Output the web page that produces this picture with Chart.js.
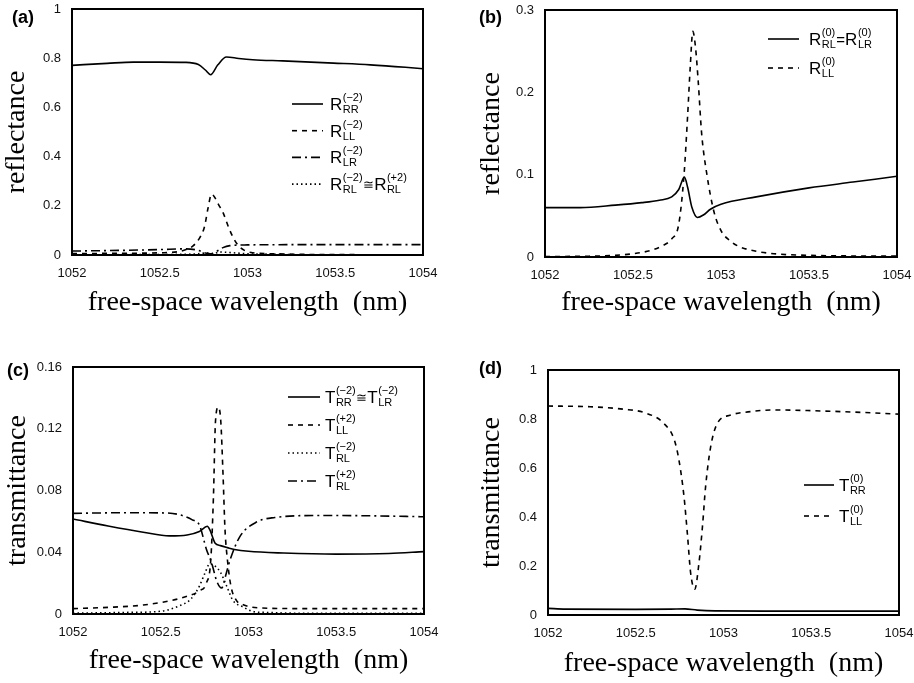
<!DOCTYPE html>
<html>
<head>
<meta charset="utf-8">
<script src="https://cdn.jsdelivr.net/npm/chart.js@4/dist/chart.umd.min.js"></script>
<style>
  body { margin: 0; background: #fff; }
  #fig { position: relative; width: 914px; height: 683px; }
  canvas { position: absolute; }
</style>
</head>
<body>
<div id="fig">
  <canvas id="panelA" width="457" height="320" style="left:0;top:0"></canvas>
  <canvas id="panelB" width="457" height="320" style="left:457px;top:0"></canvas>
  <canvas id="panelC" width="457" height="363" style="left:0;top:320px"></canvas>
  <canvas id="panelD" width="457" height="363" style="left:457px;top:320px"></canvas>
</div>
<script>
// ─────────────────────────────────────────────────────────────
// Spectra (free-space wavelength in nm)
// ─────────────────────────────────────────────────────────────

const xTicks = [1052, 1052.5, 1053, 1053.5, 1054];
const yTicksA = [0, 0.2, 0.4, 0.6, 0.8, 1];
const yTicksB = [0, 0.1, 0.2, 0.3];
const yTicksC = [0, 0.04, 0.08, 0.12, 0.16];
const yTicksD = [0, 0.2, 0.4, 0.6, 0.8, 1];

// (a) reflectance, order -2
const lamA_RR = [1052, 1052.2, 1052.35, 1052.5, 1052.65, 1052.72, 1052.76, 1052.79, 1052.83, 1052.88, 1052.95, 1053.03, 1053.2, 1053.49, 1053.7, 1053.9, 1054];
const valA_RR = [0.771, 0.779, 0.784, 0.784, 0.783, 0.774, 0.752, 0.733, 0.772, 0.805, 0.799, 0.794, 0.789, 0.780, 0.773, 0.763, 0.757];
const lamA_LL = [1052, 1052.3, 1052.5, 1052.6, 1052.65, 1052.69, 1052.73, 1052.755, 1052.775, 1052.795, 1052.81, 1052.835, 1052.862, 1052.891, 1052.919, 1052.946, 1052.98, 1053.03, 1053.15, 1053.4, 1054];
const valA_LL = [0.006, 0.007, 0.009, 0.013, 0.022, 0.037, 0.073, 0.115, 0.19, 0.247, 0.238, 0.205, 0.17, 0.115, 0.07, 0.04, 0.02, 0.009, 0.005, 0.002, 0.001];
const lamA_LR = [1052, 1052.3, 1052.5, 1052.65, 1052.72, 1052.76, 1052.79, 1052.82, 1052.86, 1052.9, 1053, 1053.3, 1053.6, 1054];
const valA_LR = [0.016, 0.019, 0.022, 0.025, 0.019, 0.008, 0.005, 0.013, 0.03, 0.038, 0.041, 0.042, 0.042, 0.042];
const lamA_RL = [1052, 1052.5, 1052.7, 1052.77, 1052.8, 1052.85, 1052.9, 1053, 1053.15, 1053.3, 1054];
const valA_RL = [0.001, 0.002, 0.004, 0.008, 0.006, 0.012, 0.01, 0.005, 0.003, 0.001, 0.0];

// (b) reflectance, order 0
const lamB_RL = [1052, 1052.2, 1052.4, 1052.55, 1052.65, 1052.72, 1052.76, 1052.792, 1052.81, 1052.835, 1052.866, 1052.9, 1052.94, 1053, 1053.2, 1053.5, 1053.75, 1054];
const valB_RL = [0.060, 0.060, 0.063, 0.066, 0.069, 0.073, 0.082, 0.097, 0.085, 0.060, 0.048, 0.051, 0.058, 0.064, 0.073, 0.084, 0.091, 0.098];
const lamB_LL = [1052, 1052.25, 1052.4, 1052.5, 1052.6, 1052.67, 1052.72, 1052.76, 1052.79, 1052.81, 1052.825, 1052.84, 1052.855, 1052.87, 1052.89, 1052.92, 1052.96, 1053.0, 1053.05, 1053.1, 1053.2, 1053.3, 1053.5, 1054];
const valB_LL = [0.0005, 0.001, 0.002, 0.004, 0.008, 0.014, 0.022, 0.04, 0.1, 0.17, 0.23, 0.274, 0.255, 0.215, 0.15, 0.1, 0.055, 0.032, 0.02, 0.013, 0.007, 0.004, 0.002, 0.001];

// (c) transmittance, orders -2 / +2
const lamC_RR = [1052, 1052.2, 1052.4, 1052.55, 1052.65, 1052.72, 1052.765, 1052.78, 1052.81, 1052.84, 1052.88, 1052.92, 1053, 1053.2, 1053.5, 1053.8, 1054];
const valC_RR = [0.0615, 0.0570, 0.0530, 0.0506, 0.0512, 0.0535, 0.0568, 0.0545, 0.0458, 0.0443, 0.0430, 0.0418, 0.0406, 0.0395, 0.0388, 0.0392, 0.0404];
const lamC_LL = [1052, 1052.2, 1052.4, 1052.55, 1052.65, 1052.72, 1052.76, 1052.785, 1052.8, 1052.812, 1052.828, 1052.842, 1052.855, 1052.866, 1052.88, 1052.9, 1052.93, 1052.97, 1053.05, 1053.3, 1053.6, 1054];
const valC_LL = [0.0035, 0.0043, 0.0058, 0.0085, 0.0115, 0.015, 0.02, 0.035, 0.075, 0.125, 0.134, 0.125, 0.09, 0.055, 0.035, 0.018, 0.009, 0.006, 0.004, 0.0035, 0.0035, 0.0035];
const lamC_RLm = [1052, 1052.3, 1052.5, 1052.6, 1052.67, 1052.72, 1052.75, 1052.78, 1052.81, 1052.84, 1052.876, 1052.91, 1052.97, 1053.03, 1053.1, 1053.3, 1054];
const valC_RLm = [0.0005, 0.001, 0.0018, 0.005, 0.0095, 0.018, 0.026, 0.0325, 0.031, 0.027, 0.018, 0.009, 0.0045, 0.0015, 0.001, 0.0005, 0.0005];
const lamC_RLp = [1052, 1052.3, 1052.5, 1052.6, 1052.68, 1052.72, 1052.76, 1052.79, 1052.82, 1052.847, 1052.87, 1052.895, 1052.95, 1053.05, 1053.15, 1053.4, 1053.7, 1054];
const valC_RLp = [0.0652, 0.0656, 0.0655, 0.0645, 0.061, 0.0577, 0.042, 0.033, 0.021, 0.0168, 0.025, 0.035, 0.050, 0.0598, 0.0625, 0.0638, 0.0636, 0.063];

// (d) transmittance, order 0
const lamD_RR = [1052, 1052.1, 1052.5, 1052.7, 1052.78, 1052.85, 1052.95, 1053.3, 1053.7, 1054];
const valD_RR = [0.027, 0.024, 0.023, 0.024, 0.025, 0.020, 0.017, 0.016, 0.016, 0.016];
const lamD_LL = [1052, 1052.24, 1052.43, 1052.55, 1052.66, 1052.72, 1052.746, 1052.775, 1052.794, 1052.813, 1052.836, 1052.86, 1052.88, 1052.898, 1052.927, 1052.965, 1053.04, 1053.14, 1053.29, 1053.5, 1053.75, 1054];
const valD_LL = [0.853, 0.85, 0.84, 0.826, 0.782, 0.714, 0.633, 0.483, 0.333, 0.17, 0.105, 0.211, 0.36, 0.524, 0.687, 0.782, 0.816, 0.829, 0.837, 0.834, 0.828, 0.82];

// legend entries: [letter, subscript, superscript] groups joined by a relation sign
const legendA = [
    [['R', 'RR', '(−2)']],
    [['R', 'LL', '(−2)']],
    [['R', 'LR', '(−2)']],
    [['R', 'RL', '(−2)'], '≅', ['R', 'RL', '(+2)']]
];
const legendB = [
    [['R', 'RL', '(0)'], '=', ['R', 'LR', '(0)']],
    [['R', 'LL', '(0)']]
];
const legendC = [
    [['T', 'RR', '(−2)'], '≅', ['T', 'LR', '(−2)']],
    [['T', 'LL', '(+2)']],
    [['T', 'RL', '(−2)']],
    [['T', 'RL', '(+2)']]
];
const legendD = [
    [['T', 'RR', '(0)']],
    [['T', 'LL', '(0)']]
];

// ─────────────────────────────────────────────────────────────
// Line styles
// ─────────────────────────────────────────────────────────────

const SOLID = [];
const DASHED = [5, 5];
const DOTTED = [1.5, 3];
const DASHDOT = [9, 4, 2, 4];
const LINE_W = 1.6;

const SANS = "'Liberation Sans', Arial, sans-serif";
const SERIF = "'Liberation Serif', 'Times New Roman', serif";

// frame, panel tag and sub/superscript legend
const decor = {
    id: 'decor',
    afterDatasetsDraw(chart, args, opts) {
        const ctx = chart.ctx;
        const a = chart.chartArea;
        ctx.save();
        ctx.strokeStyle = '#000';
        ctx.lineWidth = 2;
        ctx.setLineDash([]);
        ctx.strokeRect(a.left, a.top, a.right - a.left, a.bottom - a.top);

        // panel tag
        ctx.fillStyle = '#000';
        ctx.font = 'bold 18px ' + SANS;
        ctx.textBaseline = 'middle';
        ctx.textAlign = 'left';
        ctx.fillText(opts.tag, opts.tagX, opts.tagY);

        // legend
        const lg = opts.legend;
        ctx.textBaseline = 'alphabetic';
        lg.entries.forEach((parts, i) => {
            const ds = chart.data.datasets[i];
            const y = lg.y + i * lg.dy;
            ctx.beginPath();
            ctx.lineWidth = LINE_W;
            ctx.setLineDash(ds.borderDash || []);
            ctx.moveTo(lg.x1, y);
            ctx.lineTo(lg.x2, y);
            ctx.stroke();
            ctx.setLineDash([]);

            let x = lg.tx;
            const base = y + 6;
            parts.forEach(p => {
                if (typeof p === 'string') {
                    ctx.font = (p === '≅' ? '13px ' : '15px ') + SANS;
                    ctx.fillText(p, x, base - (p === '≅' ? 1 : 0));
                    x += ctx.measureText(p).width;
                    return;
                }
                ctx.font = '17px ' + SANS;
                ctx.fillText(p[0], x, base);
                x += ctx.measureText(p[0]).width + 0.5;
                ctx.font = '11px ' + SANS;
                ctx.fillText(p[1], x, base + 3);
                ctx.fillText(p[2], x, base - 9);
                x += Math.max(ctx.measureText(p[1]).width, ctx.measureText(p[2]).width) + 0.5;
            });
        });
        ctx.restore();
    }
};

function toPoints(lam, val) {
    return lam.map((x, i) => ({ x: x, y: val[i] }));
}

function series(lam, val, dash) {
    return {
        data: toPoints(lam, val),
        borderColor: '#000',
        borderWidth: LINE_W,
        borderDash: dash,
        pointRadius: 0,
        fill: false,
        cubicInterpolationMode: 'monotone'
    };
}

function makePanel(id, p) {
    return new Chart(document.getElementById(id), {
        type: 'line',
        data: { datasets: p.datasets },
        options: {
            responsive: false,
            animation: false,
            events: [],
            layout: { padding: { top: p.top, right: p.right, left: 0, bottom: 0 } },
            plugins: {
                legend: { display: false },
                tooltip: { enabled: false },
                decor: { tag: p.tag, tagX: p.tagX, tagY: p.tagY, legend: p.legend }
            },
            scales: {
                x: {
                    type: 'linear',
                    min: 1052,
                    max: 1054,
                    grid: { display: false, drawTicks: false },
                    border: { display: false },
                    afterBuildTicks: s => { s.ticks = xTicks.map(v => ({ value: v })); },
                    afterFit: s => { s.height = p.xh; s.paddingLeft = 0; s.paddingRight = 0; },
                    ticks: {
                        maxRotation: 0,
                        autoSkip: false,
                        padding: 11,
                        color: '#111',
                        font: { family: SANS, size: 13 },
                        callback: v => String(v)
                    },
                    title: {
                        display: true,
                        text: 'free-space wavelength  (nm)',
                        color: '#000',
                        font: { family: SERIF, size: 28 },
                        padding: { top: 0, bottom: p.xTitlePad }
                    }
                },
                y: {
                    type: 'linear',
                    min: p.yTicks[0],
                    max: p.yTicks[p.yTicks.length - 1],
                    grid: { display: false, drawTicks: false },
                    border: { display: false },
                    afterBuildTicks: s => { s.ticks = p.yTicks.map(v => ({ value: v })); },
                    afterFit: s => { s.width = p.yw; s.paddingTop = 0; s.paddingBottom = 0; },
                    ticks: {
                        autoSkip: false,
                        padding: 11,
                        color: '#111',
                        font: { family: SANS, size: 13 },
                        callback: v => String(v)
                    },
                    title: {
                        display: true,
                        text: p.yTitle,
                        color: '#000',
                        font: { family: SERIF, size: 28 },
                        padding: { top: p.yTitlePad, bottom: 0 }
                    }
                }
            }
        },
        plugins: [decor]
    });
}

makePanel('panelA', {
    datasets: [
        series(lamA_RR, valA_RR, SOLID),
        series(lamA_LL, valA_LL, DASHED),
        series(lamA_LR, valA_LR, DASHDOT),
        series(lamA_RL, valA_RL, DOTTED)
    ],
    yTicks: yTicksA, yTitle: 'reflectance',
    top: 9, right: 34, yw: 72, xh: 65, yTitlePad: 0, xTitlePad: 1,
    tag: '(a)', tagX: 12, tagY: 18,
    legend: { entries: legendA, x1: 292, x2: 323, tx: 330, y: 104, dy: 26.7 }
});

makePanel('panelB', {
    datasets: [
        series(lamB_RL, valB_RL, SOLID),
        series(lamB_LL, valB_LL, DASHED)
    ],
    yTicks: yTicksB, yTitle: 'reflectance',
    top: 10, right: 17, yw: 88, xh: 63, yTitlePad: 18, xTitlePad: 1,
    tag: '(b)', tagX: 22, tagY: 18,
    legend: { entries: legendB, x1: 311, x2: 342, tx: 352, y: 39, dy: 29 }
});

makePanel('panelC', {
    datasets: [
        series(lamC_RR, valC_RR, SOLID),
        series(lamC_LL, valC_LL, DASHED),
        series(lamC_RLm, valC_RLm, DOTTED),
        series(lamC_RLp, valC_RLp, DASHDOT)
    ],
    yTicks: yTicksC, yTitle: 'transmittance',
    top: 47, right: 33, yw: 73, xh: 69, yTitlePad: 1, xTitlePad: 6,
    tag: '(c)', tagX: 7, tagY: 51,
    legend: { entries: legendC, x1: 288, x2: 320, tx: 325, y: 77, dy: 28 }
});

makePanel('panelD', {
    datasets: [
        series(lamD_RR, valD_RR, SOLID),
        series(lamD_LL, valD_LL, DASHED)
    ],
    yTicks: yTicksD, yTitle: 'transmittance',
    top: 50, right: 15, yw: 91, xh: 68, yTitlePad: 18, xTitlePad: 3,
    tag: '(d)', tagX: 22, tagY: 49,
    legend: { entries: legendD, x1: 347, x2: 377, tx: 382, y: 165, dy: 31 }
});
</script>
</body>
</html>
